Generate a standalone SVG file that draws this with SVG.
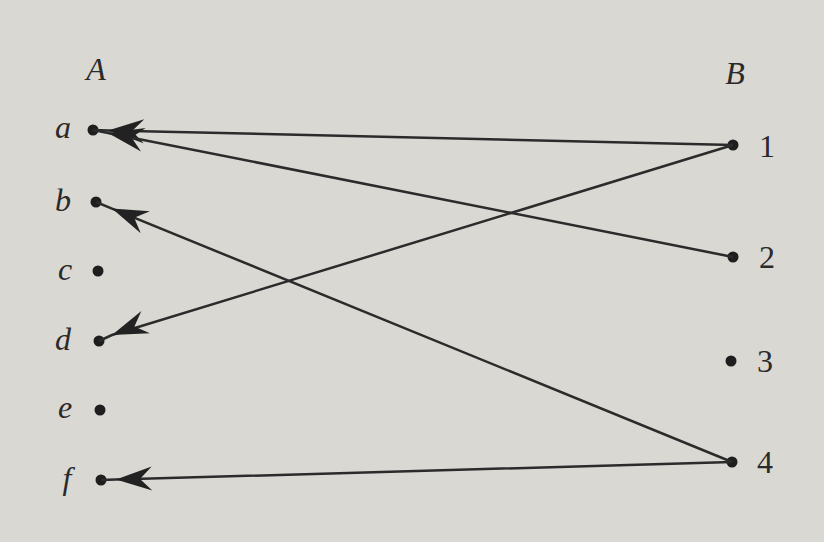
<svg xmlns="http://www.w3.org/2000/svg" width="824" height="542" viewBox="0 0 824 542">
<style>
.lbl{font-family:"Liberation Serif",serif;font-style:italic;font-size:32px;fill:#2a2a2a}
.num{font-family:"Liberation Serif",serif;font-size:32px;fill:#2a2a2a}
.dot{fill:#1e1e1e}
.edge{fill:none;stroke:#2b2b2b;stroke-width:2.5;marker-mid:url(#ah)}
</style>
<defs>
<marker id="ah" markerUnits="userSpaceOnUse" viewBox="-40 -14 42 28" refX="0" refY="0" markerWidth="42" markerHeight="28" orient="auto">
<path d="M0,0 L-36,-12 L-24,0 L-36,12 Z" fill="#222"/>
</marker>
</defs>
<rect width="824" height="542" fill="#dad8d3"/>
<g id="set-A">
<text class="lbl" x="96" y="80" text-anchor="middle">A</text>
</g>
<g id="set-B">
<text class="lbl" x="735" y="84" text-anchor="middle">B</text>
</g>
<g id="node-a"><circle class="dot" cx="93" cy="130" r="5.5"/><text class="lbl" x="63" y="138" text-anchor="middle">a</text></g>
<g id="node-b"><circle class="dot" cx="96" cy="202" r="5.5"/><text class="lbl" x="63" y="211" text-anchor="middle">b</text></g>
<g id="node-c"><circle class="dot" cx="98" cy="271" r="5.5"/><text class="lbl" x="65" y="280" text-anchor="middle">c</text></g>
<g id="node-d"><circle class="dot" cx="99" cy="341" r="5.5"/><text class="lbl" x="63" y="350" text-anchor="middle">d</text></g>
<g id="node-e"><circle class="dot" cx="100" cy="410" r="5.5"/><text class="lbl" x="65" y="418" text-anchor="middle">e</text></g>
<g id="node-f"><circle class="dot" cx="101" cy="480" r="5.5"/><text class="lbl" x="67" y="489" text-anchor="middle">f</text></g>
<g id="node-1"><circle class="dot" cx="733" cy="145" r="5.5"/><text class="num" x="767" y="157" text-anchor="middle">1</text></g>
<g id="node-2"><circle class="dot" cx="733" cy="257" r="5.5"/><text class="num" x="767" y="268" text-anchor="middle">2</text></g>
<g id="node-3"><circle class="dot" cx="731" cy="361" r="5.5"/><text class="num" x="765" y="372" text-anchor="middle">3</text></g>
<g id="node-4"><circle class="dot" cx="732" cy="462" r="5.5"/><text class="num" x="765" y="473" text-anchor="middle">4</text></g>
<g id="connectors">
<path class="edge" d="M733,145 L108,130.4 L93,130"/>
<path class="edge" d="M733,257 L108,132.9 L93,130"/>
<path class="edge" d="M733,145 L112,335 L99,341"/>
<path class="edge" d="M732,462 L112,208.6 L96,202"/>
<path class="edge" d="M732,462 L116,479.6 L101,480"/>
</g>
</svg>
